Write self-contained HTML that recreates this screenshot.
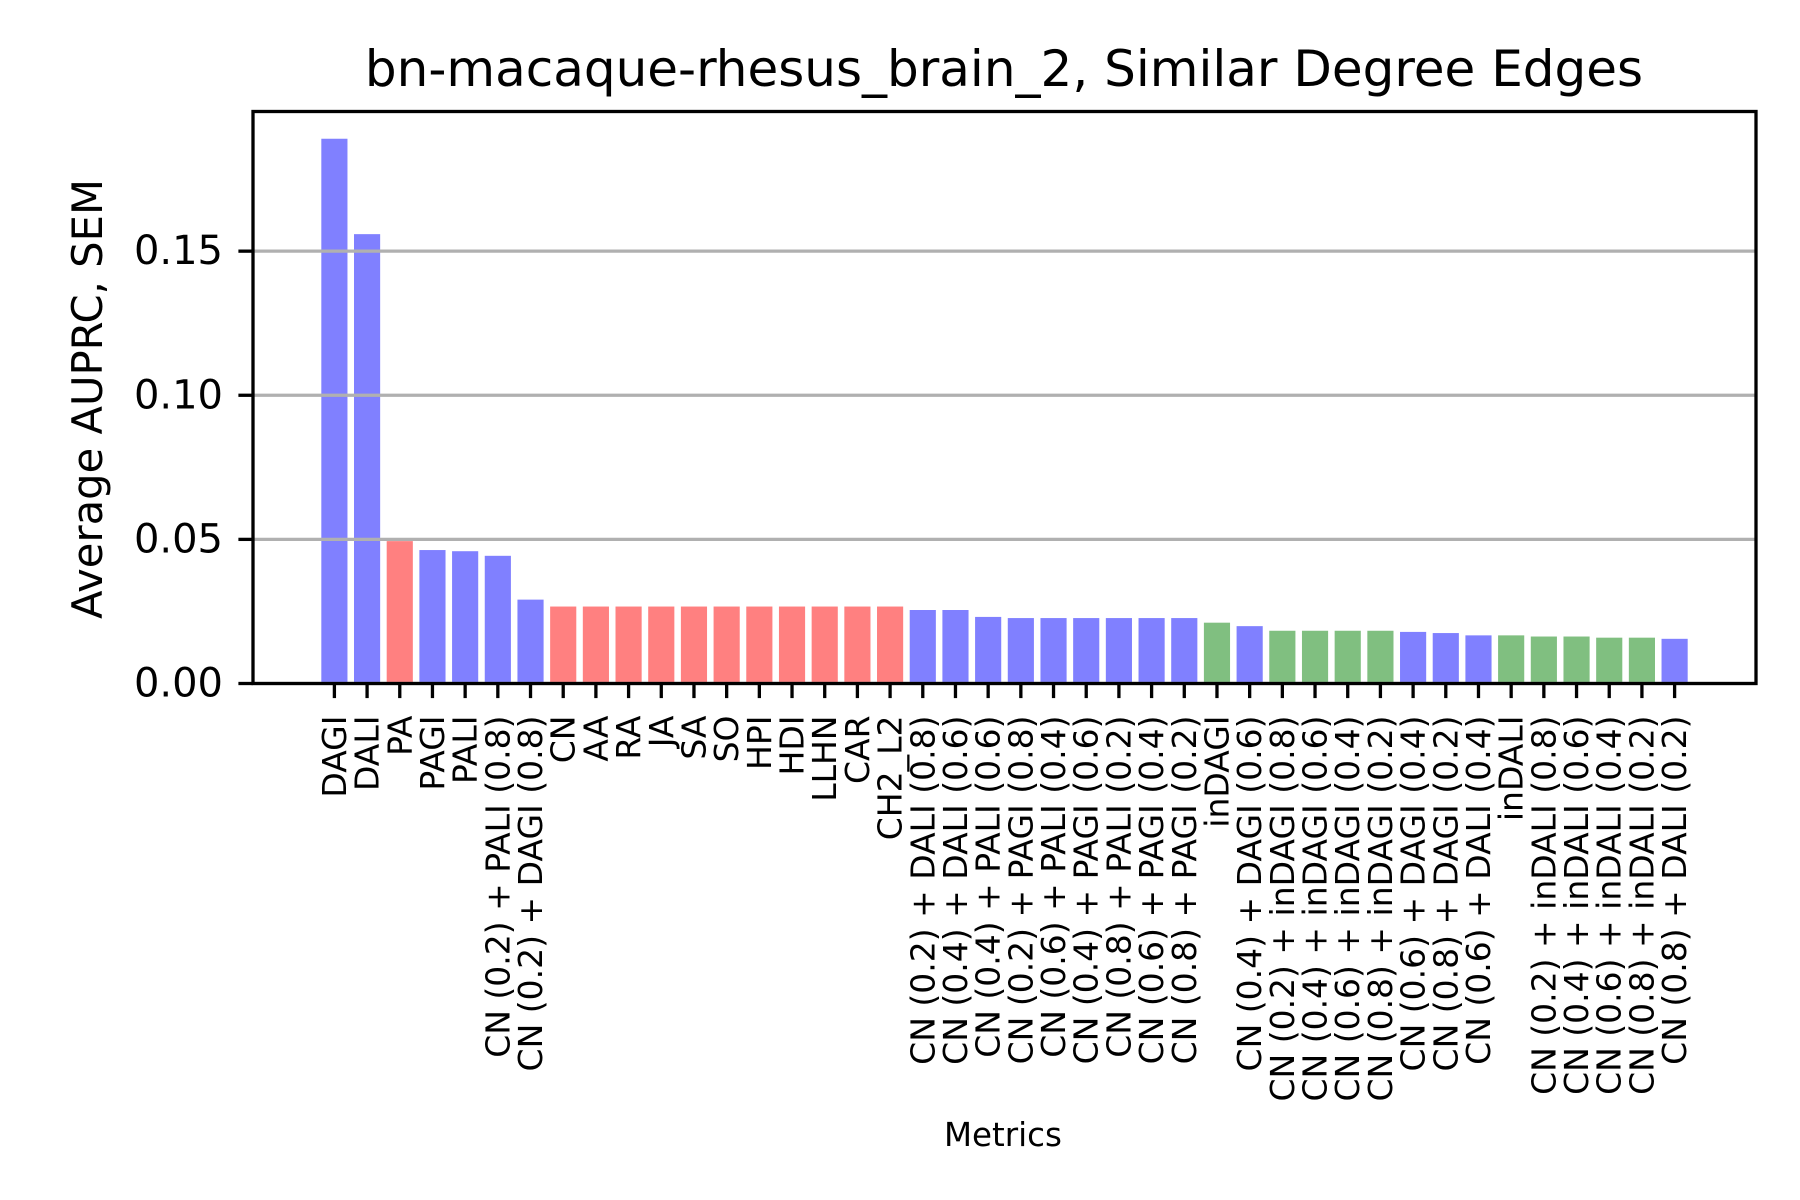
<!DOCTYPE html>
<html><head><meta charset="utf-8"><style>
html,body{margin:0;padding:0;background:#fff;}
svg{display:block;font-family:"DejaVu Sans","Liberation Sans",sans-serif;}
</style></head><body>
<svg id="chart" width="1800" height="1200" viewBox="0 0 1800 1200">
<rect width="1800" height="1200" fill="#fff"/>
<text x="1004" y="86" font-size="50" text-anchor="middle">bn-macaque-rhesus_brain_2, Similar Degree Edges</text>
<g id="bars"></g>
<g id="grid"></g>
<g id="yticks"></g>
<g id="xticks"></g>
<rect x="253" y="111.5" width="1503" height="572" fill="none" stroke="#000" stroke-width="3.3"/>
<text transform="translate(102,399) rotate(-90)" font-size="41.7" text-anchor="middle">Average AUPRC, SEM</text>
<text x="1003" y="1146" font-size="32.5" text-anchor="middle">Metrics</text>
</svg>
<script>
const categories = ["DAGI","DALI","PA","PAGI","PALI","CN (0.2) + PALI (0.8)","CN (0.2) + DAGI (0.8)","CN","AA","RA","JA","SA","SO","HPI","HDI","LLHN","CAR","CH2_L2","CN (0.2) + DALI (0.8)","CN (0.4) + DALI (0.6)","CN (0.4) + PALI (0.6)","CN (0.2) + PAGI (0.8)","CN (0.6) + PALI (0.4)","CN (0.4) + PAGI (0.6)","CN (0.8) + PALI (0.2)","CN (0.6) + PAGI (0.4)","CN (0.8) + PAGI (0.2)","inDAGI","CN (0.4) + DAGI (0.6)","CN (0.2) + inDAGI (0.8)","CN (0.4) + inDAGI (0.6)","CN (0.6) + inDAGI (0.4)","CN (0.8) + inDAGI (0.2)","CN (0.6) + DAGI (0.4)","CN (0.8) + DAGI (0.2)","CN (0.6) + DALI (0.4)","inDALI","CN (0.2) + inDALI (0.8)","CN (0.4) + inDALI (0.6)","CN (0.6) + inDALI (0.4)","CN (0.8) + inDALI (0.2)","CN (0.8) + DALI (0.2)"];
const values = [0.189,0.1559,0.0494,0.0463,0.0459,0.0443,0.0291,0.0267,0.0267,0.0267,0.0267,0.0267,0.0267,0.0267,0.0267,0.0267,0.0267,0.0267,0.0255,0.0255,0.0231,0.0227,0.0227,0.0227,0.0227,0.0227,0.0227,0.0211,0.0199,0.0183,0.0183,0.0183,0.0183,0.0179,0.0175,0.0167,0.0167,0.0163,0.0163,0.0159,0.0159,0.0155];
const groups = ["b","b","r","b","b","b","b","r","r","r","r","r","r","r","r","r","r","r","b","b","b","b","b","b","b","b","b","g","b","g","g","g","g","b","b","b","g","g","g","g","g","b"];
const yTicks = [0, 0.05, 0.10, 0.15];
const yTickLabels = ["0.00","0.05","0.10","0.15"];

const NS = "http://www.w3.org/2000/svg";
const L = 253, R = 1756, T = 111.5, B = 683.5;
const n = categories.length;
const maxV = Math.max(...values);
const yMax = maxV * 1.05;
const xMin = -0.4 - 0.05 * (n - 1 + 0.8), xMax = (n - 1) + 0.4 + 0.05 * (n - 1 + 0.8);
function xs(i){ return L + (i - xMin) / (xMax - xMin) * (R - L); }
function ys(v){ return B - v / yMax * (B - T); }
const colors = {b:"#8080ff", r:"#ff8080", g:"#80bf80"};
function mk(tag, attrs, parent){ const e = document.createElementNS(NS, tag); for (const k in attrs) e.setAttribute(k, attrs[k]); parent.appendChild(e); return e; }

const gb = document.getElementById("bars");
const bw = (xs(1) - xs(0)) * 0.8;
values.forEach((v, i) => {
  const r = mk("rect", {x: xs(i) - bw/2, y: ys(v), width: bw, height: B - ys(v), fill: colors[groups[i]]}, gb);
  
  
});

const gg = document.getElementById("grid");
const gy = document.getElementById("yticks");
yTicks.forEach((t, k) => {
  const y = ys(t);
  const gl = mk("line", {x1: L, x2: R, y1: y, y2: y, stroke: "#b0b0b0", "stroke-width": 3.3}, gg);
  
  
  const tk = mk("line", {x1: L - 14.6, x2: L, y1: y, y2: y, stroke: "#000", "stroke-width": 3.3}, gy);
  
  
  const tx = mk("text", {x: L - 30, y: y, "font-size": 40, "text-anchor": "end", "dominant-baseline": "central"}, gy);
  tx.textContent = yTickLabels[k];
  
  
});

const gx = document.getElementById("xticks");
categories.forEach((c, i) => {
  const x = xs(i);
  const tk = mk("line", {x1: x, x2: x, y1: B, y2: B + 14.6, stroke: "#000", "stroke-width": 3.3}, gx);
  
  
  const tx = mk("text", {transform: "translate(" + x + "," + (B + 32) + ") rotate(-90)", "font-size": 33, "text-anchor": "end", "dominant-baseline": "central"}, gx);
  tx.textContent = c;
  
  
});
</script>
</body></html>
